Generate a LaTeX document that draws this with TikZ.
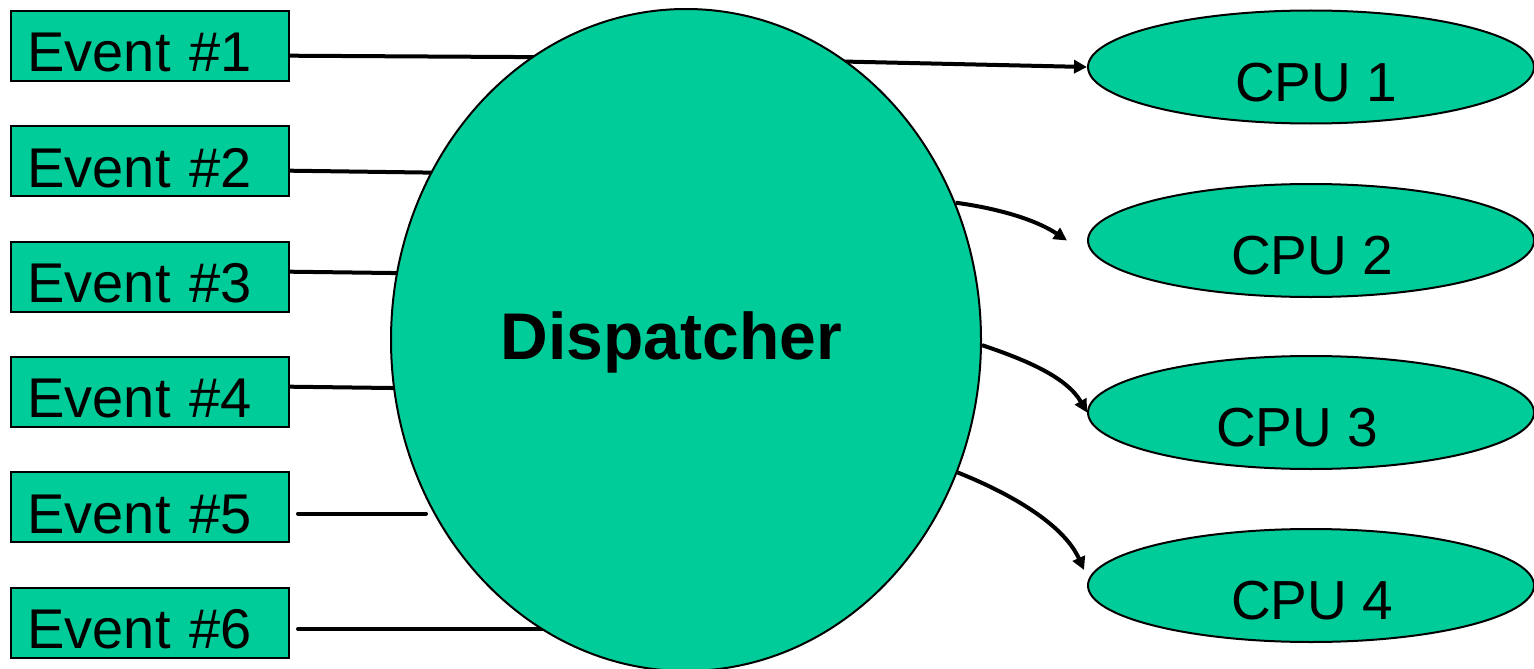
\documentclass[tikz,border=0pt]{standalone}
\usepackage{fontspec}
\setmainfont{Liberation Sans}
\usetikzlibrary{shapes.geometric,arrows.meta}
\definecolor{unitgreen}{HTML}{00CC99}

\begin{document}
\begin{tikzpicture}[x=1pt,y=-1pt,
  evbox/.style={draw=black, line width=2pt, fill=unitgreen, rectangle,
    minimum width=278pt, minimum height=70pt, inner xsep=16.5pt, inner ysep=0pt,
    text width=245pt, align=left, text height=52pt, text depth=0pt,
    font=\fontsize{56}{58}\selectfont},
  cpubox/.style={draw=black, line width=2pt, fill=unitgreen, ellipse,
    minimum width=446pt, minimum height=113pt, inner sep=0pt},
  cputext/.style={anchor=base, inner sep=0pt, font=\fontsize{55}{57}\selectfont},
  conn/.style={draw=black, line width=4pt},
  free/.style={draw=black, line width=4pt, line cap=round},
  tip/.style={-{Triangle[length=13pt,width=13pt]}}
]
\useasboundingbox (0,0) rectangle (1534,669);

% event sources
\node[evbox] (e1) at (150,46)    {Event \#1};
\node[evbox] (e2) at (150,161.3) {Event \#2};
\node[evbox] (e3) at (150,276.6) {Event \#3};
\node[evbox] (e4) at (150,391.9) {Event \#4};
\node[evbox] (e5) at (150,507.2) {Event \#5};
\node[evbox] (e6) at (150,622.5) {Event \#6};

% processors
\node[cpubox] (cpu1) at (1311,67)    {};
\node[cpubox] (cpu2) at (1311,240.5) {};
\node[cpubox] (cpu3) at (1311,412.5) {};
\node[cpubox] (cpu4) at (1311,585.5) {};
\node[cputext] (c1) at (1316,101) {CPU 1};
\node[cputext] (c2) at (1312,274) {CPU 2};
\node[cputext] (c3) at (1297,446) {CPU 3};
\node[cputext] (c4) at (1312,619) {CPU 4};

% inputs running under the dispatcher
\coordinate (in2) at (460,173);
\coordinate (in3) at (430,273.5);
\coordinate (in4) at (430,388.5);
\coordinate (in6) at (580,629);
\coordinate (mid1) at (686,58);
\draw[conn,tip] ([yshift=-9.7pt]e1.east) -- (mid1) -- (cpu1.west);
\draw[conn] ([yshift=-9.4pt]e2.east) -- (in2);
\draw[conn] ([yshift=4.9pt]e3.east) -- (in3);
\draw[conn] ([yshift=5.2pt]e4.east) -- (in4);
\draw[free] ([shift={(8pt,-6.5pt)}]e6.east) -- (in6);

% dispatcher
\node[draw=black, line width=2pt, fill=unitgreen, ellipse,
  minimum width=590pt, minimum height=662pt, inner sep=0pt] (disp) at (686,340) {};
\node[anchor=base, inner sep=0pt, font=\fontsize{66}{68}\selectfont\bfseries]
  (dtext) at (671.5,359) {Dispatcher};

% unconnected input
\coordinate (in5) at (426,513.5);
\draw[free] ([shift={(8pt,-6.3pt)}]e5.east) -- (in5);

% outputs to the processors
\draw[conn,tip] (disp.27) .. controls +(45,6) and +(-30,-20) .. ([xshift=-20pt]cpu2.west);
\draw[conn,tip] (disp.-1) .. controls +(45,15) and +(-20,-35) .. (cpu3.west);
\draw[conn,tip] (disp.-26) .. controls +(55,22) and +(-20,-45) .. ([shift={(-3pt,15.5pt)}]cpu4.west);
\end{tikzpicture}
\end{document}
